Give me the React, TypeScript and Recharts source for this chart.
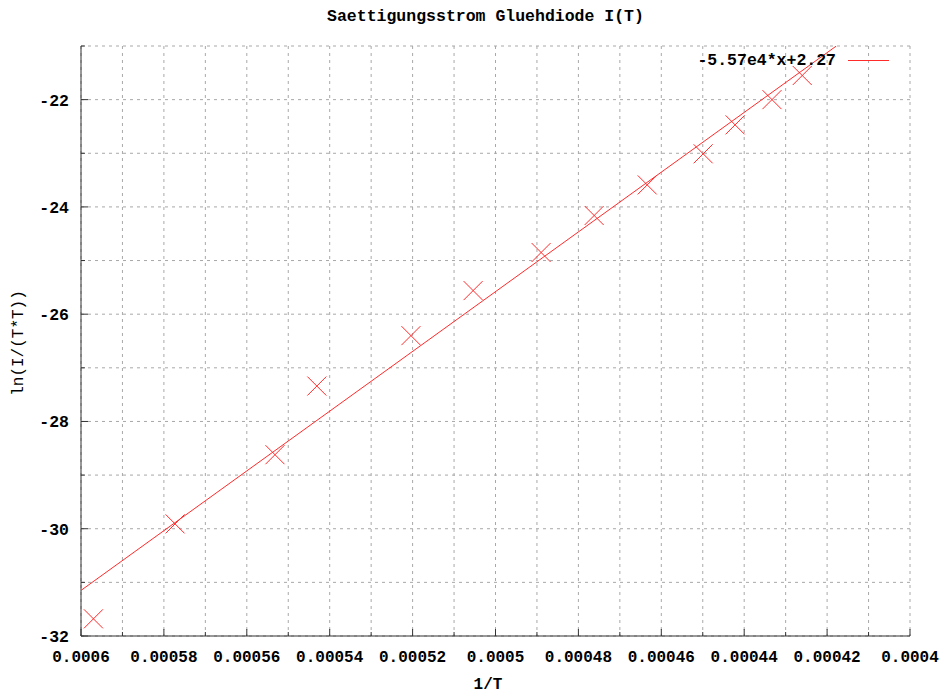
import React from 'react';
import { ScatterChart, Scatter, XAxis, YAxis, CartesianGrid } from 'recharts';

// Measured saturation current of the glow-cathode diode, linearised as ln(I/T^2) over 1/T
const INV_T = [
  0.000597, 0.0005773, 0.0005532, 0.0005431, 0.0005204, 0.0005054, 0.000489,
  0.0004762, 0.0004634, 0.0004499, 0.0004422, 0.0004333, 0.000426,
];
const LN_I_T2 = [
  -31.68, -29.91, -28.62, -27.34, -26.4, -25.56, -24.85,
  -24.16, -23.59, -23.01, -22.47, -22.0, -21.55,
];

// Linear fit f(x) = a*x + b
const FIT_SLOPE = -5.57e4;
const FIT_INTERCEPT = 2.27;
const FIT_LABEL = '-5.57e4*x+2.27';

const X_DOMAIN: [number, number] = [0.0004, 0.0006];
const Y_DOMAIN: [number, number] = [-32, -21];

// Every tic (major and minor); the labelled ones are every second
const X_TICKS = [
  0.0004, 0.00041, 0.00042, 0.00043, 0.00044, 0.00045, 0.00046, 0.00047, 0.00048,
  0.00049, 0.0005, 0.00051, 0.00052, 0.00053, 0.00054, 0.00055, 0.00056, 0.00057,
  0.00058, 0.00059, 0.0006,
];
const Y_TICKS = [-32, -31, -30, -29, -28, -27, -26, -25, -24, -23, -22, -21];

const TITLE = 'Saettigungsstrom Gluehdiode I(T)';
const X_LABEL = '1/T';
const Y_LABEL = 'ln(I/(T*T))';

const measured = INV_T.map((x, i) => ({ x, y: LN_I_T2[i] }));

// Fit line from the left edge to where it leaves the top of the plot
const fitStart = X_DOMAIN[1];
const fitEnd = (Y_DOMAIN[1] - FIT_INTERCEPT) / FIT_SLOPE;
const fitLine = [fitStart, fitEnd].map((x) => ({ x, y: FIT_SLOPE * x + FIT_INTERCEPT }));

const FONT = '"Liberation Mono", "DejaVu Sans Mono", monospace';
const RED = '#ff2a2a';
const BORDER = '#333333';
const MAJOR = 7;
const MINOR = 4;

const isMajorX = (v: number) => Math.round(v * 1e5) % 2 === 0;
const isMajorY = (v: number) => Math.round(v) % 2 === 0;

const BottomTick = (props: any) => {
  const { x, y, payload } = props;
  const v = payload.value as number;
  const major = isMajorX(v);
  return (
    <g>
      <line x1={x} x2={x} y1={y} y2={y - (major ? MAJOR : MINOR)} stroke={BORDER} />
      {major && (
        <text x={x} y={y + 26} textAnchor="middle" fontFamily={FONT} fontWeight="bold" fontSize={16} fill="#000">
          {String(v)}
        </text>
      )}
    </g>
  );
};

const TopTick = (props: any) => {
  const { x, y, payload } = props;
  const major = isMajorX(payload.value);
  return <line x1={x} x2={x} y1={y} y2={y + (major ? MAJOR : MINOR)} stroke={BORDER} />;
};

const LeftTick = (props: any) => {
  const { x, y, payload } = props;
  const v = payload.value as number;
  const major = isMajorY(v);
  return (
    <g>
      <line x1={x} x2={x + (major ? MAJOR : MINOR)} y1={y} y2={y} stroke={BORDER} />
      {major && (
        <text
          x={x - 12}
          y={y + 6}
          textAnchor="end"
          style={{ fontFamily: FONT, fontWeight: 700, fontSize: 16.5 }}
          fill="#000"
        >
          {String(v)}
        </text>
      )}
    </g>
  );
};

const RightTick = (props: any) => {
  const { x, y, payload } = props;
  const major = isMajorY(payload.value);
  return <line x1={x} x2={x - (major ? MAJOR : MINOR)} y1={y} y2={y} stroke={BORDER} />;
};

const Cross = (props: any) => {
  const { cx, cy } = props;
  const r = 9.5;
  return (
    <g>
      <line x1={cx - r} y1={cy - r} x2={cx + r} y2={cy + r} stroke={RED} strokeWidth={1} />
      <line x1={cx - r} y1={cy + r} x2={cx + r} y2={cy - r} stroke={RED} strokeWidth={1} />
    </g>
  );
};

const NoDot = () => <g />;

export default function App() {
  return (
    <div style={{ position: 'absolute', left: 0, top: 0, width: 944, height: 695, background: '#fff' }}>
      <ScatterChart
        width={944}
        height={695}
        margin={{ top: 46, right: 34, bottom: 0, left: 0 }}
      >
        <CartesianGrid stroke="#a8a8a8" strokeDasharray="3 4" />
        <XAxis
          dataKey="x"
          type="number"
          domain={X_DOMAIN}
          ticks={X_TICKS}
          reversed
          interval={0}
          height={59}
          tickSize={0}
          tickMargin={0}
          tickLine={false}
          axisLine={{ stroke: BORDER }}
          tick={<BottomTick />}
          allowDataOverflow
        />
        <XAxis
          xAxisId="top"
          orientation="top"
          dataKey="x"
          type="number"
          domain={X_DOMAIN}
          ticks={X_TICKS}
          reversed
          interval={0}
          height={0}
          tickSize={0}
          tickMargin={0}
          tickLine={false}
          axisLine={{ stroke: BORDER }}
          tick={<TopTick />}
          allowDataOverflow
        />
        <YAxis
          dataKey="y"
          type="number"
          domain={Y_DOMAIN}
          ticks={Y_TICKS}
          interval={0}
          width={81}
          tickSize={0}
          tickMargin={0}
          tickLine={false}
          axisLine={{ stroke: BORDER }}
          tick={<LeftTick />}
          allowDataOverflow
        />
        <YAxis
          yAxisId="right"
          orientation="right"
          dataKey="y"
          type="number"
          domain={Y_DOMAIN}
          ticks={Y_TICKS}
          interval={0}
          width={0}
          tickSize={0}
          tickMargin={0}
          tickLine={false}
          axisLine={{ stroke: BORDER }}
          tick={<RightTick />}
          allowDataOverflow
        />
        <Scatter
          data={fitLine}
          line={{ stroke: RED, strokeWidth: 1 }}
          shape={<NoDot />}
          isAnimationActive={false}
        />
        <Scatter data={measured} shape={<Cross />} isAnimationActive={false} />
      </ScatterChart>

      {/* Title */}
      <div
        style={{
          position: 'absolute', left: 0, width: 971, top: 6, textAlign: 'center',
          fontFamily: FONT, fontWeight: 'bold', fontSize: 16.5, color: '#000', lineHeight: '22px',
        }}
      >
        {TITLE}
      </div>

      {/* Key */}
      <div
        style={{
          position: 'absolute', right: 944 - 836, top: 50, textAlign: 'right',
          fontFamily: FONT, fontWeight: 'bold', fontSize: 16.5, color: '#000', lineHeight: '22px',
          whiteSpace: 'nowrap',
        }}
      >
        {FIT_LABEL}
      </div>
      <div style={{ position: 'absolute', left: 848, top: 60, width: 41, height: 1, background: RED }} />

      {/* Axis titles */}
      <div
        style={{
          position: 'absolute', left: 448, width: 80, top: 674, textAlign: 'center',
          fontFamily: FONT, fontWeight: 'bold', fontSize: 16, color: '#000', lineHeight: '22px',
        }}
      >
        {X_LABEL}
      </div>
      <div
        style={{
          position: 'absolute', left: 19, top: 343, width: 0, height: 0,
        }}
      >
        <div
          style={{
            position: 'absolute', left: -80, top: -11, width: 160, textAlign: 'center',
            transform: 'rotate(-90deg)', fontFamily: FONT, fontSize: 16, color: '#000',
            lineHeight: '22px', whiteSpace: 'nowrap',
          }}
        >
          {Y_LABEL}
        </div>
      </div>
    </div>
  );
}
